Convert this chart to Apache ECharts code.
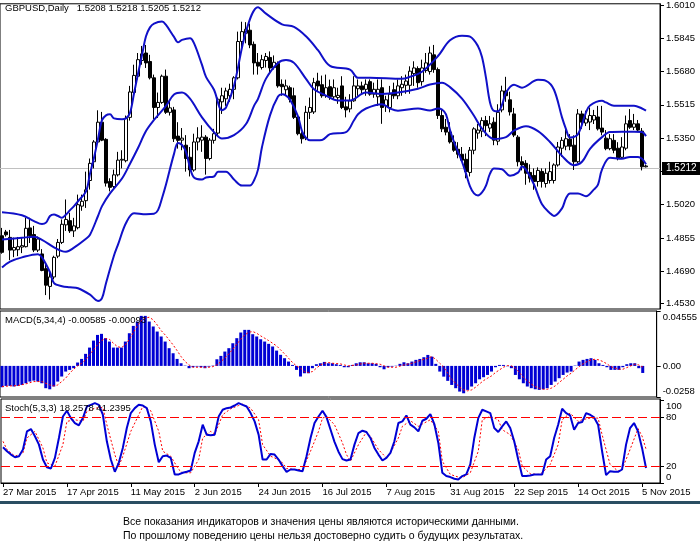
<!DOCTYPE html>
<html><head><meta charset="utf-8">
<script src="https://cdn.jsdelivr.net/npm/echarts@6/dist/echarts.min.js"></script>
<style>html,body{margin:0;padding:0;background:#fff;}#c{width:700px;height:552px;}</style>
</head><body><div id="c"></div>
<script>
const tickLabels = ['27 Mar 2015','17 Apr 2015','11 May 2015','2 Jun 2015','24 Jun 2015','16 Jul 2015','7 Aug 2015','31 Aug 2015','22 Sep 2015','14 Oct 2015','5 Nov 2015'];
const headerText = 'GBPUSD,Daily   1.5208 1.5218 1.5205 1.5212';
const macdTitle = 'MACD(5,34,4) -0.00585 -0.00093';
const stochTitle = 'Stoch(5,3,3) 18.2578 41.2395';
const disclaimer = ['Все показания индикаторов и значения цены являются историческими данными.',
                    'По прошлому поведению цены нельзя достоверно судить о будущих результатах.'];

const open = [
1.4866,1.4885,1.4858,1.4795,1.4797,1.4810,1.4812,1.4905,1.4872,1.4795,
1.4776,1.4703,1.4615,1.4662,1.4765,1.4833,1.4920,1.4941,1.4890,1.4906,
1.5013,1.5040,1.5140,1.5233,1.5331,1.5429,1.5344,1.5135,1.5110,1.5168,
1.5241,1.5238,1.5453,1.5576,1.5657,1.5735,1.5772,1.5730,1.5649,1.5502,
1.5527,1.5657,1.5478,1.5490,1.5360,1.5340,1.5315,1.5255,1.5192,1.5331,
1.5340,1.5355,1.5249,1.5339,1.5375,1.5530,1.5545,1.5560,1.5592,1.5649,
1.5829,1.5870,1.5885,1.5815,1.5726,1.5700,1.5735,1.5750,1.5700,1.5720,
1.5617,1.5590,1.5600,1.5560,1.5455,1.5372,1.5350,1.5478,1.5480,1.5633,
1.5615,1.5560,1.5605,1.5555,1.5551,1.5609,1.5505,1.5495,1.5535,1.5595,
1.5609,1.5592,1.5630,1.5568,1.5555,1.5600,1.5510,1.5502,1.5590,1.5560,
1.5600,1.5612,1.5612,1.5670,1.5695,1.5630,1.5685,1.5680,1.5763,1.5690,
1.5462,1.5404,1.5380,1.5331,1.5295,1.5270,1.5245,1.5180,1.5290,1.5375,
1.5385,1.5437,1.5400,1.5429,1.5335,1.5490,1.5584,1.5540,1.5470,1.5355,
1.5233,1.5225,1.5180,1.5165,1.5135,1.5185,1.5125,1.5140,1.5140,1.5217,
1.5300,1.5310,1.5345,1.5315,1.5233,1.5470,1.5425,1.5430,1.5440,1.5455,
1.5400,1.5350,1.5298,1.5339,1.5300,1.5255,1.5300,1.5437,1.5404,1.5421,
1.5385,1.5208];
const high = [
1.4905,1.4895,1.4895,1.4857,1.4860,1.4855,1.4955,1.4955,1.4915,1.4862,
1.4800,1.4727,1.4694,1.4767,1.4850,1.4947,1.5046,1.4980,1.4955,1.5070,
1.5070,1.5184,1.5249,1.5340,1.5488,1.5480,1.5350,1.5151,1.5194,1.5282,
1.5290,1.5462,1.5609,1.5714,1.5772,1.5807,1.5812,1.5763,1.5665,1.5576,
1.5665,1.5690,1.5536,1.5505,1.5429,1.5400,1.5365,1.5306,1.5372,1.5404,
1.5414,1.5365,1.5350,1.5396,1.5551,1.5600,1.5600,1.5620,1.5657,1.5878,
1.5927,1.5925,1.5918,1.5829,1.5772,1.5763,1.5772,1.5780,1.5760,1.5730,
1.5641,1.5640,1.5610,1.5600,1.5462,1.5380,1.5510,1.5551,1.5649,1.5674,
1.5660,1.5665,1.5640,1.5641,1.5600,1.5657,1.5555,1.5568,1.5657,1.5641,
1.5630,1.5641,1.5641,1.5625,1.5641,1.5641,1.5560,1.5609,1.5625,1.5641,
1.5657,1.5665,1.5706,1.5731,1.5706,1.5739,1.5772,1.5804,1.5812,1.5700,
1.5494,1.5445,1.5429,1.5364,1.5330,1.5306,1.5274,1.5306,1.5404,1.5420,
1.5453,1.5460,1.5460,1.5453,1.5518,1.5610,1.5654,1.5580,1.5500,1.5365,
1.5260,1.5241,1.5220,1.5200,1.5205,1.5200,1.5200,1.5233,1.5225,1.5331,
1.5355,1.5396,1.5370,1.5364,1.5494,1.5486,1.5486,1.5502,1.5490,1.5510,
1.5510,1.5390,1.5370,1.5370,1.5330,1.5355,1.5462,1.5494,1.5470,1.5440,
1.5400,1.5218];
const low = [
1.4777,1.4862,1.4745,1.4760,1.4765,1.4780,1.4808,1.4830,1.4785,1.4785,
1.4690,1.4572,1.4550,1.4650,1.4755,1.4825,1.4890,1.4880,1.4860,1.4898,
1.4990,1.5004,1.5095,1.5200,1.5323,1.5335,1.5110,1.5086,1.5100,1.5160,
1.5200,1.5230,1.5437,1.5568,1.5641,1.5714,1.5698,1.5641,1.5445,1.5450,
1.5520,1.5470,1.5462,1.5331,1.5298,1.5290,1.5184,1.5160,1.5184,1.5289,
1.5282,1.5169,1.5240,1.5323,1.5364,1.5470,1.5510,1.5530,1.5543,1.5641,
1.5788,1.5820,1.5796,1.5665,1.5665,1.5690,1.5700,1.5674,1.5690,1.5600,
1.5560,1.5560,1.5527,1.5445,1.5364,1.5323,1.5340,1.5445,1.5470,1.5584,
1.5550,1.5550,1.5540,1.5543,1.5520,1.5494,1.5453,1.5478,1.5530,1.5560,
1.5570,1.5560,1.5560,1.5550,1.5510,1.5421,1.5480,1.5478,1.5545,1.5543,
1.5560,1.5570,1.5570,1.5609,1.5600,1.5610,1.5674,1.5665,1.5674,1.5445,
1.5380,1.5364,1.5323,1.5282,1.5250,1.5233,1.5151,1.5160,1.5270,1.5347,
1.5355,1.5360,1.5380,1.5315,1.5315,1.5478,1.5530,1.5462,1.5355,1.5210,
1.5190,1.5119,1.5130,1.5094,1.5110,1.5105,1.5105,1.5125,1.5125,1.5209,
1.5257,1.5290,1.5290,1.5192,1.5225,1.5396,1.5410,1.5390,1.5420,1.5388,
1.5364,1.5290,1.5290,1.5275,1.5240,1.5249,1.5290,1.5396,1.5390,1.5380,
1.5190,1.5205];
const close = [
1.4784,1.4871,1.4795,1.4808,1.4812,1.4817,1.4903,1.4866,1.4795,1.4850,
1.4694,1.4621,1.4662,1.4759,1.4833,1.4923,1.4947,1.4890,1.4915,1.5020,
1.5037,1.5094,1.5225,1.5331,1.5429,1.5340,1.5127,1.5106,1.5168,1.5241,
1.5245,1.5448,1.5579,1.5661,1.5739,1.5768,1.5723,1.5649,1.5502,1.5527,
1.5657,1.5478,1.5500,1.5347,1.5339,1.5350,1.5249,1.5192,1.5331,1.5351,
1.5355,1.5249,1.5340,1.5372,1.5543,1.5560,1.5584,1.5592,1.5649,1.5829,
1.5878,1.5890,1.5812,1.5723,1.5707,1.5739,1.5755,1.5698,1.5726,1.5609,
1.5605,1.5609,1.5543,1.5453,1.5372,1.5347,1.5478,1.5502,1.5625,1.5609,
1.5560,1.5600,1.5555,1.5600,1.5562,1.5502,1.5490,1.5535,1.5609,1.5609,
1.5590,1.5617,1.5568,1.5592,1.5592,1.5502,1.5540,1.5568,1.5560,1.5609,
1.5617,1.5633,1.5682,1.5698,1.5625,1.5698,1.5723,1.5772,1.5690,1.5462,
1.5396,1.5380,1.5331,1.5290,1.5270,1.5241,1.5184,1.5290,1.5396,1.5390,
1.5437,1.5412,1.5421,1.5340,1.5478,1.5584,1.5560,1.5480,1.5365,1.5233,
1.5217,1.5176,1.5151,1.5135,1.5190,1.5135,1.5176,1.5184,1.5217,1.5306,
1.5339,1.5347,1.5310,1.5233,1.5470,1.5429,1.5445,1.5462,1.5462,1.5396,
1.5380,1.5298,1.5347,1.5290,1.5249,1.5306,1.5421,1.5404,1.5421,1.5390,
1.5208,1.5212];

// Bollinger bands: [bar index, price]
const bbUpper = [[0,1.4983],[5,1.4968],[8,1.4939],[10,1.4924],[11,1.4931],[12,1.4964],[13,1.4971],[14,1.4964],[15,1.4955],[16,1.4971],[17,1.4993],[18,1.5013],[19,1.5037],[21,1.5086],[22,1.5174],[23,1.5253],[24,1.5346],[25,1.5439],[26,1.5463],[27,1.5468],[28,1.5448],[30,1.5444],[31,1.5448],[32,1.5475],[33,1.5571],[34,1.5669],[35,1.5762],[36,1.5855],[37,1.5899],[38,1.5918],[40,1.5928],[41,1.5911],[43,1.5852],[44,1.5825],[45,1.5837],[47,1.5845],[48,1.5821],[50,1.5713],[51,1.5654],[53,1.5590],[55,1.5488],[56,1.5502],[58,1.5610],[61,1.5879],[64,1.5999],[66,1.5967],[70,1.5914],[73,1.5902],[76,1.5855],[79,1.5786],[82,1.5708],[87,1.5690],[89,1.5649],[92,1.5649],[100,1.5644],[102,1.5654],[105,1.5679],[109,1.5757],[112,1.5835],[115,1.5858],[117,1.5853],[119,1.5806],[120,1.5752],[121,1.5649],[122,1.5527],[123,1.5485],[124,1.5483],[125,1.5515],[126,1.5576],[128,1.5615],[130,1.5600],[134,1.5639],[136,1.5634],[138,1.5590],[140,1.5453],[141,1.5395],[142,1.5353],[144,1.5370],[146,1.5478],[147,1.5512],[150,1.5535],[151,1.5527],[153,1.5511],[158,1.5511],[160,1.5497],[161,1.5486]];
const bbMiddle = [[0,1.4847],[5,1.4856],[8,1.4861],[10,1.4846],[13,1.4809],[15,1.4790],[16,1.4787],[18,1.4807],[21,1.4851],[22,1.4871],[24,1.4964],[25,1.5013],[27,1.5076],[30,1.5150],[32,1.5223],[34,1.5301],[36,1.5385],[38,1.5440],[41,1.5510],[43,1.5566],[45,1.5576],[47,1.5546],[50,1.5453],[53,1.5380],[55,1.5348],[58,1.5365],[61,1.5420],[63,1.5510],[64,1.5545],[66,1.5645],[69,1.5723],[71,1.5737],[73,1.5723],[76,1.5644],[78,1.5592],[81,1.5561],[84,1.5537],[87,1.5537],[91,1.5576],[95,1.5569],[99,1.5576],[104,1.5595],[107,1.5616],[110,1.5625],[112,1.5603],[115,1.5546],[118,1.5461],[120,1.5397],[123,1.5346],[126,1.5355],[128,1.5387],[131,1.5409],[134,1.5385],[137,1.5331],[140,1.5262],[143,1.5216],[145,1.5233],[147,1.5297],[150,1.5355],[152,1.5380],[155,1.5382],[158,1.5382],[160,1.5380],[161,1.5360]];
const bbLower = [[0,1.4709],[2,1.4738],[5,1.4759],[9,1.4775],[10,1.4759],[12,1.4685],[13,1.4631],[15,1.4616],[17,1.4611],[19,1.4606],[22,1.4574],[24,1.4543],[25,1.4557],[26,1.4631],[28,1.4768],[29,1.4822],[31,1.4929],[33,1.4978],[36,1.4973],[38,1.4975],[39,1.4993],[40,1.5052],[41,1.5120],[43,1.5272],[44,1.5326],[45,1.5316],[46,1.5282],[47,1.5204],[48,1.5155],[50,1.5145],[51,1.5155],[53,1.5160],[54,1.5184],[56,1.5184],[58,1.5145],[60,1.5115],[62,1.5115],[63,1.5140],[64,1.5194],[65,1.5306],[67,1.5463],[69,1.5556],[70,1.5567],[71,1.5561],[72,1.5541],[74,1.5458],[75,1.5385],[76,1.5351],[77,1.5339],[80,1.5341],[82,1.5370],[86,1.5380],[88,1.5439],[89,1.5468],[91,1.5497],[95,1.5518],[97,1.5497],[99,1.5486],[104,1.5497],[107,1.5487],[109,1.5497],[110,1.5492],[111,1.5468],[112,1.5390],[113,1.5331],[114,1.5282],[115,1.5233],[116,1.5174],[117,1.5111],[118,1.5076],[119,1.5066],[120,1.5081],[121,1.5115],[122,1.5174],[123,1.5199],[125,1.5196],[127,1.5164],[129,1.5179],[130,1.5209],[131,1.5194],[133,1.5120],[135,1.5022],[137,1.4978],[138,1.4964],[140,1.5002],[141,1.5052],[142,1.5076],[144,1.5076],[146,1.5062],[148,1.5096],[149,1.5120],[150,1.5194],[152,1.5253],[155,1.5248],[157,1.5257],[159,1.5257],[160,1.5248],[161,1.5221]];

const macdMain = [
-0.0177,-0.0166,-0.0166,-0.0171,-0.0166,-0.0158,-0.0144,-0.0130,-0.0122,-0.0130,
-0.0144,-0.0185,-0.0194,-0.0171,-0.0130,-0.0088,-0.0047,-0.0033,-0.0019,0.0028,
0.0058,0.0100,0.0152,0.0210,0.0257,0.0266,0.0230,0.0202,0.0152,0.0152,
0.0152,0.0202,0.0271,0.0332,0.0368,0.0415,0.0415,0.0368,0.0327,0.0285,
0.0244,0.0202,0.0147,0.0105,0.0058,0.0022,0.0003,-0.0019,-0.0011,-0.0006,
-0.0011,-0.0019,-0.0006,0.0003,0.0055,0.0083,0.0119,0.0147,0.0188,0.0230,
0.0277,0.0299,0.0299,0.0263,0.0244,0.0221,0.0202,0.0183,0.0161,0.0127,
0.0092,0.0064,0.0036,0.0008,-0.0033,-0.0088,-0.0061,-0.0061,-0.0019,0.0014,
0.0022,0.0033,0.0022,0.0022,0.0014,0.0008,-0.0011,-0.0011,0.0008,0.0022,
0.0030,0.0030,0.0022,0.0022,0.0017,-0.0011,-0.0028,-0.0011,-0.0006,0.0002,
0.0017,0.0030,0.0022,0.0036,0.0050,0.0058,0.0072,0.0091,0.0077,0.0017,
-0.0047,-0.0089,-0.0124,-0.0158,-0.0185,-0.0213,-0.0227,-0.0199,-0.0171,-0.0144,
-0.0111,-0.0094,-0.0075,-0.0047,-0.0011,0.0008,0.0008,-0.0003,-0.0019,-0.0075,
-0.0111,-0.0144,-0.0171,-0.0185,-0.0194,-0.0199,-0.0194,-0.0185,-0.0158,-0.0130,
-0.0102,-0.0075,-0.0055,-0.0047,0.0003,0.0036,0.0050,0.0058,0.0064,0.0050,
0.0022,0.0008,-0.0011,-0.0033,-0.0033,-0.0033,-0.0011,0.0014,0.0022,0.0022,
-0.0019,-0.00585];
const macdSignal = [[0,-0.0171],[2,-0.0166],[4,-0.0163],[6,-0.0149],[8,-0.0130],[10,-0.0130],[12,-0.0158],[13,-0.0166],[14,-0.0158],[15,-0.0130],[16,-0.0102],[17,-0.0061],[18,-0.0028],[19,0.0],[20,0.0022],[21,0.0050],[22,0.0091],[23,0.0133],[24,0.0174],[25,0.0210],[26,0.0227],[27,0.0221],[28,0.0188],[29,0.0160],[30,0.0152],[31,0.0174],[32,0.0221],[33,0.0277],[34,0.0332],[35,0.0376],[36,0.0396],[37,0.0404],[38,0.0382],[39,0.0340],[40,0.0293],[41,0.0257],[42,0.0216],[43,0.0174],[44,0.0127],[45,0.0077],[46,0.0036],[47,0.0008],[48,-0.0011],[52,-0.0011],[53,-0.0006],[54,0.0008],[55,0.0036],[56,0.0064],[57,0.0100],[58,0.0138],[59,0.0180],[60,0.0221],[61,0.0257],[62,0.0279],[63,0.0285],[64,0.0271],[65,0.0249],[66,0.0230],[67,0.0210],[68,0.0188],[69,0.0166],[70,0.0133],[71,0.0100],[72,0.0064],[73,0.0028],[74,0.0],[75,-0.0019],[76,-0.0047],[77,-0.0055],[78,-0.0047],[79,-0.0019],[80,0.0008],[81,0.0022],[82,0.0028],[83,0.0022],[85,0.0017],[86,0.0008],[87,0.0],[89,0.0008],[91,0.0022],[93,0.0022],[95,0.0014],[96,0.0],[97,-0.0011],[99,-0.0011],[101,0.0008],[103,0.0022],[105,0.0044],[107,0.0064],[108,0.0077],[109,0.0055],[110,0.0022],[111,-0.0011],[112,-0.0061],[113,-0.0111],[114,-0.0144],[115,-0.0177],[116,-0.0199],[117,-0.0207],[118,-0.0199],[119,-0.0177],[120,-0.0149],[121,-0.0122],[122,-0.0102],[123,-0.0083],[124,-0.0055],[125,-0.0033],[126,-0.0011],[127,0.0003],[128,0.0],[129,-0.0019],[130,-0.0055],[131,-0.0094],[132,-0.0124],[133,-0.0152],[134,-0.0171],[135,-0.0185],[136,-0.0194],[137,-0.0194],[138,-0.0185],[139,-0.0166],[140,-0.0138],[141,-0.0111],[142,-0.0083],[143,-0.0061],[144,-0.0033],[145,-0.0006],[146,0.0017],[147,0.0036],[148,0.0050],[149,0.0055],[150,0.0050],[151,0.0036],[152,0.0017],[153,-0.0006],[154,-0.0019],[155,-0.0028],[156,-0.0028],[157,-0.0014],[158,0.0],[159,0.0014],[160,0.0008],[161,-0.00093]];

const stochMain = [
43.4,38.6,34.5,31.3,32.5,40.6,62.7,65.5,56.7,46.6,
28.5,19.2,17.6,30.5,54.7,80.8,87.7,78.8,72.8,70.0,
78.8,92.9,94.9,96.9,94.9,82.9,50.6,28.5,13.6,24.5,
42.6,66.7,84.9,90.9,94.9,94.1,90.9,74.8,46.6,25.3,
32.5,33.3,30.5,10.4,10.4,12.4,13.6,15.2,36.6,50.6,
70.8,58.7,57.9,58.7,80.8,88.9,90.9,91.7,94.1,96.9,
94.9,92.9,84.9,74.8,58.7,28.5,28.5,35.3,34.5,28.5,
20.5,13.6,16.4,16.4,15.2,14.4,32.5,54.7,72.8,80.8,
87.7,80.0,65.0,50.0,38.0,29.0,27.3,28.5,46.6,60.7,
63.5,61.9,54.7,42.6,34.5,27.3,30.5,36.6,50.6,72.8,
74.8,82.0,70.8,67.6,62.7,75.6,78.0,83.7,71.6,48.6,
12.4,8.4,7.2,5.2,4.3,8.4,10.4,22.5,54.7,78.8,
88.9,86.9,84.9,66.7,61.9,68.8,74.8,66.7,50.6,28.5,
8.4,8.4,9.2,10.4,10.4,10.4,28.5,32.5,54.7,70.8,
90.1,84.9,82.0,64.7,72.8,74.0,84.9,82.9,79.6,70.8,
38.6,9.6,14.4,13.6,13.6,16.4,46.6,66.7,72.8,62.7,
42.6,18.2578];
const stochSignal = [[0,50.6],[1,40.6],[3,32.5],[5,36.6],[6,54.7],[8,62.7],[10,42.6],[11,24.5],[13,20.5],[15,46.6],[16,74.8],[18,76.8],[20,74.8],[21,86.9],[23,90.9],[25,91.7],[26,70.8],[28,34.5],[29,20.5],[30,32.5],[32,62.7],[34,82.9],[35,92.9],[37,87.7],[39,62.7],[40,38.6],[42,32.5],[44,16.4],[45,12.4],[47,12.4],[49,28.5],[50,54.7],[52,62.7],[53,59.5],[54,70.8],[55,82.9],[57,90.1],[59,94.1],[60,95.7],[62,90.9],[64,76.8],[65,46.6],[67,32.5],[68,30.5],[70,24.5],[71,17.6],[73,16.4],[75,16.4],[77,38.6],[79,62.7],[80,78.8],[81,80.8],[83,70.8],[85,48.6],[86,34.5],[87,26.5],[89,46.6],[91,61.9],[92,56.7],[94,40.6],[96,30.5],[97,36.6],[99,54.7],[100,68.8],[102,75.6],[104,68.8],[105,71.6],[107,76.8],[109,62.7],[110,26.5],[112,10.4],[114,7.2],[115,6.4],[117,12.4],[119,38.6],[120,76.8],[122,80.8],[124,76.8],[125,64.7],[127,58.7],[129,40.6],[130,20.5],[132,11.2],[134,10.4],[135,12.4],[137,22.5],[139,46.6],[140,76.8],[142,84.9],[144,74.8],[145,76.8],[147,78.8],[149,78.8],[150,58.7],[152,22.5],[154,14.4],[155,16.4],[157,40.6],[159,66.0],[160,57.0],[161,41.2395]];

const priceTicks = [1.6010,1.5845,1.5680,1.5515,1.5350,1.5185,1.5020,1.4855,1.4690,1.4530];
const macdTicks = [0.04555, 0, -0.0258];
const stochTicks = [100, 80, 20, 0];
const stochLevels = [20, 80];

const FONT = '"Liberation Sans", Arial, sans-serif';
const FS = 9.5;
const n = open.length;
const cats = Array.from({length: n + 3}, (_, i) => String(i));
const candles = open.map((o, i) => [o, close[i], low[i], high[i]]);
const lastClose = close[n - 1];
const BLUE = '#1010c8';
const HIST = '#0000d4';

const shiftRich = {
  t: {verticalAlign: 'top', padding: [12, 0, 0, 0], fontSize: FS, fontFamily: FONT, color: '#000'},
  b: {verticalAlign: 'bottom', padding: [0, 0, 12, 0], fontSize: FS, fontFamily: FONT, color: '#000'}
};

function hiddenX(gi) {
  return {type: 'category', gridIndex: gi, data: cats, boundaryGap: true, show: false};
}
const gridBase = {left: 0, width: 660, show: true, borderColor: '#000', borderWidth: 1, backgroundColor: '#fff'};

const chart = echarts.init(document.getElementById('c'), null, {renderer: 'canvas'});
chart.setOption({
  animation: false,
  backgroundColor: '#fff',
  textStyle: {fontFamily: FONT},
  title: [
    {text: headerText, left: 5, top: 3, padding: 0, textStyle: {fontSize: FS, fontWeight: 'normal', color: '#000', fontFamily: FONT}},
    {text: macdTitle, left: 5, top: 315, padding: 0, textStyle: {fontSize: FS, fontWeight: 'normal', color: '#000', fontFamily: FONT}},
    {text: stochTitle, left: 5, top: 403, padding: 0, textStyle: {fontSize: FS, fontWeight: 'normal', color: '#000', fontFamily: FONT}}
  ],
  grid: [
    Object.assign({top: 0, height: 309}, gridBase),
    Object.assign({top: 311, height: 86}, gridBase),
    Object.assign({top: 399, height: 84}, gridBase)
  ],
  xAxis: [
    hiddenX(0), hiddenX(1),
    {type: 'category', gridIndex: 2, data: cats, boundaryGap: true,
     axisLine: {show: true, lineStyle: {color: '#000'}},
     axisTick: {show: true, alignWithLabel: true, length: 4, lineStyle: {color: '#000'},
                interval: (i) => i % 16 === 0 && i / 16 < tickLabels.length},
     axisLabel: {show: true, interval: 0, align: 'left', margin: 4, fontSize: FS, color: '#000', fontFamily: FONT,
                 formatter: (v, i) => (i % 16 === 0 && i / 16 < tickLabels.length) ? tickLabels[i / 16] : ''},
     splitLine: {show: false}}
  ],
  yAxis: [
    {type: 'value', gridIndex: 0, position: 'right', min: 1.4503, max: 1.6016, scale: true,
     axisLine: {show: true, lineStyle: {color: '#000'}},
     axisTick: {show: true, length: 4, lineStyle: {color: '#000'}, customValues: priceTicks},
     axisLabel: {show: true, margin: 6, fontSize: FS, color: '#000', fontFamily: FONT, customValues: priceTicks, hideOverlap: false,
                 formatter: (v) => v.toFixed(4)},
     splitLine: {show: false}},
    {type: 'value', gridIndex: 1, position: 'right', min: -0.0258, max: 0.04555,
     axisLine: {show: true, lineStyle: {color: '#000'}},
     axisTick: {show: true, length: 4, lineStyle: {color: '#000'}, customValues: macdTicks},
     axisLabel: {show: true, margin: 6, fontSize: FS, color: '#000', fontFamily: FONT, customValues: macdTicks, rich: shiftRich, hideOverlap: false,
                 formatter: (v) => v === 0 ? '0.00' : (v > 0 ? '{t|' + v + '}' : '{b|' + v + '}')},
     splitLine: {show: false}},
    {type: 'value', gridIndex: 2, position: 'right', min: 0, max: 102,
     axisLine: {show: true, lineStyle: {color: '#000'}},
     axisTick: {show: true, length: 4, lineStyle: {color: '#000'}, customValues: stochTicks},
     axisLabel: {show: true, margin: 6, fontSize: FS, color: '#000', fontFamily: FONT, customValues: stochTicks, rich: shiftRich, hideOverlap: false,
                 formatter: (v) => v === 100 ? '{t|100}' : (v === 0 ? '{b|0}' : String(v))},
     splitLine: {show: false}}
  ],
  series: [
    {type: 'candlestick', xAxisIndex: 0, yAxisIndex: 0, data: candles, barWidth: 3, z: 3,
     itemStyle: {color: '#ffffff', color0: '#000000', borderColor: '#000000', borderColor0: '#000000', borderWidth: 1},
     markLine: {silent: true, symbol: ['none', 'none'], animation: false, z: 1,
       lineStyle: {color: '#c0c0c0', type: 'solid', width: 1},
       label: {show: true, position: 'end', distance: 2, formatter: lastClose.toFixed(4), color: '#fff', backgroundColor: '#000',
               padding: [2, 4, 1, 4], fontSize: FS + 0.5, fontFamily: FONT},
       data: [{yAxis: lastClose}]}},
    {type: 'line', xAxisIndex: 0, yAxisIndex: 0, data: bbUpper, smooth: 0.35, showSymbol: false, z: 4,
     lineStyle: {color: BLUE, width: 2}},
    {type: 'line', xAxisIndex: 0, yAxisIndex: 0, data: bbMiddle, smooth: 0.35, showSymbol: false, z: 4,
     lineStyle: {color: BLUE, width: 2}},
    {type: 'line', xAxisIndex: 0, yAxisIndex: 0, data: bbLower, smooth: 0.35, showSymbol: false, z: 4,
     lineStyle: {color: BLUE, width: 2}},
    {type: 'bar', xAxisIndex: 1, yAxisIndex: 1, data: macdMain, barWidth: 3, itemStyle: {color: HIST}, z: 2},
    {type: 'line', xAxisIndex: 1, yAxisIndex: 1, data: macdSignal, showSymbol: false, z: 3,
     lineStyle: {color: '#ff0000', width: 1, type: [2, 2]}},
    {type: 'line', xAxisIndex: 2, yAxisIndex: 2, data: stochMain, showSymbol: false, z: 4,
     lineStyle: {color: HIST, width: 2},
     markLine: {silent: true, symbol: ['none', 'none'], animation: false, label: {show: false},
       lineStyle: {color: '#ff0000', width: 1, type: [9, 4]},
       data: stochLevels.map(v => ({yAxis: v}))}},
    {type: 'line', xAxisIndex: 2, yAxisIndex: 2, data: stochSignal, showSymbol: false, z: 3,
     lineStyle: {color: '#ff0000', width: 1, type: [2, 2]}}
  ],
  graphic: [
    {type: 'rect', left: 0, top: 501, shape: {width: 700, height: 3}, style: {fill: '#2a4e62'}, silent: true},
    {type: 'text', left: 123, top: 517, style: {text: disclaimer[0], font: '10.5px ' + FONT, fill: '#000'}, silent: true},
    {type: 'text', left: 123, top: 531, style: {text: disclaimer[1], font: '10.5px ' + FONT, fill: '#000'}, silent: true}
  ]
});
</script></body></html>
